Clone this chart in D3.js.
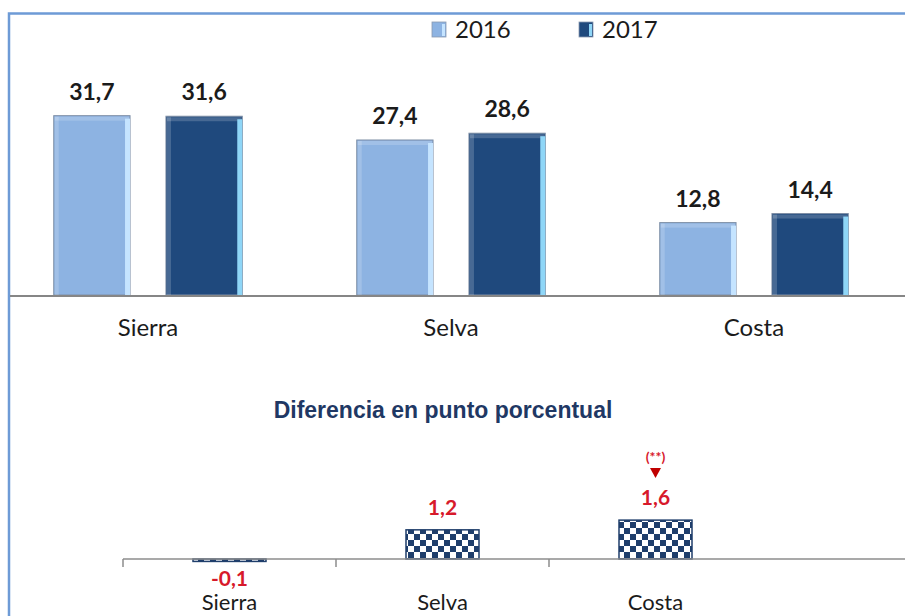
<!DOCTYPE html>
<html>
<head>
<meta charset="utf-8">
<script src="https://cdn.jsdelivr.net/npm/d3@7"></script>
<style>
  body { margin: 0; background: #fff; }
  svg { display: block; }
</style>
</head>
<body>
<div id="chart"></div>
<script>
// data
const regions = ["Sierra", "Selva", "Costa"];
const years = ["2016", "2017"];
const values2016 = [31.7, 27.4, 12.8];
const values2017 = [31.6, 28.6, 14.4];
const diffValues = [-0.1, 1.2, 1.6];
const diffNotes = ["", "", "(**)"];

const width = 905, height = 616;
const colors = { "2016": "#8db3e2", "2017": "#1f497d" };
const edgeLight = { "2016": "#c5e4ff", "2017": "#8fd6f7" };
const red = "#d7192b";
const fmt = v => String(v).replace(".", ",");
const sans = "Lato, 'Open Sans', sans-serif";

const svg = d3.select("#chart").append("svg")
  .attr("width", width).attr("height", height);

// frame (left + top border)
svg.append("path")
  .attr("d", "M9,616 V13.5 H905")
  .attr("fill", "none").attr("stroke", "#6e9bd6").attr("stroke-width", 2.5);

// ---------- top chart ----------
const x = d3.scaleBand().domain(regions).range([-3.5, 905.5]);
const xIn = d3.scaleBand().domain(years).range([0, x.bandwidth()])
  .paddingInner(0.32).paddingOuter(0.51);
const y = d3.scaleLinear().domain([0, 35]).range([295, 97]);

const rows = regions.map((r, i) => ({
  region: r,
  bars: [{ year: "2016", v: values2016[i] }, { year: "2017", v: values2017[i] }]
}));

const g = svg.append("g");
const groups = g.selectAll("g.grp").data(rows).join("g")
  .attr("class", "grp")
  .attr("transform", d => `translate(${x(d.region)},0)`);

const bar = groups.selectAll("g.bar").data(d => d.bars).join("g").attr("class", "bar");
bar.append("rect")
  .attr("x", d => xIn(d.year)).attr("y", d => y(d.v))
  .attr("width", xIn.bandwidth()).attr("height", d => y(0) - y(d.v))
  .attr("fill", d => colors[d.year])
  .attr("stroke", "#7f8fa6").attr("stroke-width", 1);
// bevel: left highlight, top highlight, right light edge
bar.append("rect")
  .attr("x", d => xIn(d.year) + 1).attr("y", d => y(d.v) + 1)
  .attr("width", 4).attr("height", d => y(0) - y(d.v) - 1)
  .attr("fill", "#fff").attr("opacity", 0.18);
bar.append("rect")
  .attr("x", d => xIn(d.year) + 1).attr("y", d => y(d.v) + 1)
  .attr("width", xIn.bandwidth() - 2).attr("height", 4)
  .attr("fill", "#fff").attr("opacity", 0.18);
bar.append("rect")
  .attr("x", d => xIn(d.year) + xIn.bandwidth() - 5).attr("y", d => y(d.v) + 3)
  .attr("width", 5).attr("height", d => y(0) - y(d.v) - 3)
  .attr("fill", d => edgeLight[d.year]);

bar.append("text")
  .attr("x", d => xIn(d.year) + xIn.bandwidth() / 2)
  .attr("y", d => y(d.v) - 16)
  .attr("text-anchor", "middle")
  .style("font", `bold 23px ${sans}`)
  .attr("fill", "#1b1b1b")
  .text(d => fmt(d.v));

// baseline
g.append("line")
  .attr("x1", 10).attr("x2", width).attr("y1", y(0) + 1).attr("y2", y(0) + 1)
  .attr("stroke", "#868686").attr("stroke-width", 2);

g.selectAll("text.cat").data(regions).join("text")
  .attr("class", "cat")
  .attr("x", d => x(d) + x.bandwidth() / 2).attr("y", 336)
  .attr("text-anchor", "middle")
  .style("font", `24px ${sans}`)
  .attr("fill", "#1b1b1b")
  .text(d => d);

// legend
const legend = svg.append("g");
const legX = { "2016": 432, "2017": 579 };
years.forEach(yr => {
  legend.append("rect")
    .attr("x", legX[yr]).attr("y", 22).attr("width", 14).attr("height", 15)
    .attr("fill", colors[yr]).attr("stroke", "#8a9ab0").attr("stroke-width", 0.8);
  legend.append("rect")
    .attr("x", legX[yr] + 10).attr("y", 24).attr("width", 3).attr("height", 12)
    .attr("fill", edgeLight[yr]);
  legend.append("text")
    .attr("x", legX[yr] + 23).attr("y", 38)
    .style("font", `24px ${sans}`)
    .attr("fill", "#1b1b1b")
    .text(yr);
});

// ---------- bottom chart ----------
svg.append("text")
  .attr("x", 443).attr("y", 418)
  .attr("text-anchor", "middle")
  .style("font", "bold 23px 'Liberation Sans', Arial, sans-serif")
  .attr("fill", "#1f3864")
  .text("Diferencia en punto porcentual");

const defs = svg.append("defs");
const pat = defs.append("pattern")
  .attr("id", "checker").attr("patternUnits", "userSpaceOnUse")
  .attr("width", 12).attr("height", 12);
pat.append("rect").attr("width", 12).attr("height", 12).attr("fill", "#fff");
pat.append("rect").attr("x", 0).attr("y", 0).attr("width", 6).attr("height", 6).attr("fill", "#1f3e6b");
pat.append("rect").attr("x", 6).attr("y", 6).attr("width", 6).attr("height", 6).attr("fill", "#1f3e6b");

const x2 = d3.scaleBand().domain(regions).range([123, 762]);
const y2 = d3.scaleLinear().domain([0, 2]).range([559, 510.4]);
const barW2 = 73;

const g2 = svg.append("g");
const diffRows = regions.map((r, i) => ({ region: r, v: diffValues[i], note: diffNotes[i] }));

g2.selectAll("rect.diff").data(diffRows).join("rect")
  .attr("class", "diff")
  .attr("x", d => x2(d.region) + (x2.bandwidth() - barW2) / 2)
  .attr("y", d => Math.min(y2(d.v), y2(0)))
  .attr("width", barW2)
  .attr("height", d => Math.abs(y2(d.v) - y2(0)))
  .attr("fill", "url(#checker)")
  .attr("stroke", "#1f3e6b").attr("stroke-width", 1.5);

// axis line with ticks at band edges
g2.append("line")
  .attr("x1", x2.range()[0]).attr("x2", width).attr("y1", y2(0)).attr("y2", y2(0))
  .attr("stroke", "#8c8c8c").attr("stroke-width", 1.5);
const edges = regions.map(r => x2(r));
g2.selectAll("line.tick").data(edges).join("line")
  .attr("class", "tick")
  .attr("x1", d => d).attr("x2", d => d)
  .attr("y1", y2(0)).attr("y2", y2(0) + 8)
  .attr("stroke", "#8c8c8c").attr("stroke-width", 1.5);

g2.selectAll("text.dv").data(diffRows).join("text")
  .attr("class", "dv")
  .attr("x", d => x2(d.region) + x2.bandwidth() / 2)
  .attr("y", d => d.v < 0 ? y2(0) + 27 : y2(d.v) - 15)
  .attr("text-anchor", "middle")
  .style("font", `bold 21px ${sans}`)
  .attr("fill", red)
  .text(d => fmt(d.v));

const noted = diffRows.filter(d => d.note);
g2.selectAll("text.note").data(noted).join("text")
  .attr("class", "note")
  .attr("x", d => x2(d.region) + x2.bandwidth() / 2)
  .attr("y", d => y2(d.v) - 58)
  .attr("text-anchor", "middle")
  .style("font", `bold 14px ${sans}`)
  .attr("fill", red)
  .text(d => d.note);
g2.selectAll("path.arrow").data(noted).join("path")
  .attr("class", "arrow")
  .attr("transform", d => `translate(${x2(d.region) + x2.bandwidth() / 2},${y2(d.v) - 47})`)
  .attr("d", "M-5.5,-5 L5.5,-5 L0,5 Z")
  .attr("fill", "#c00000");

g2.selectAll("text.cat2").data(regions).join("text")
  .attr("class", "cat2")
  .attr("x", d => x2(d) + x2.bandwidth() / 2).attr("y", 610)
  .attr("text-anchor", "middle")
  .style("font", `22px ${sans}`)
  .attr("fill", "#1b1b1b")
  .text(d => d);
</script>
</body>
</html>
